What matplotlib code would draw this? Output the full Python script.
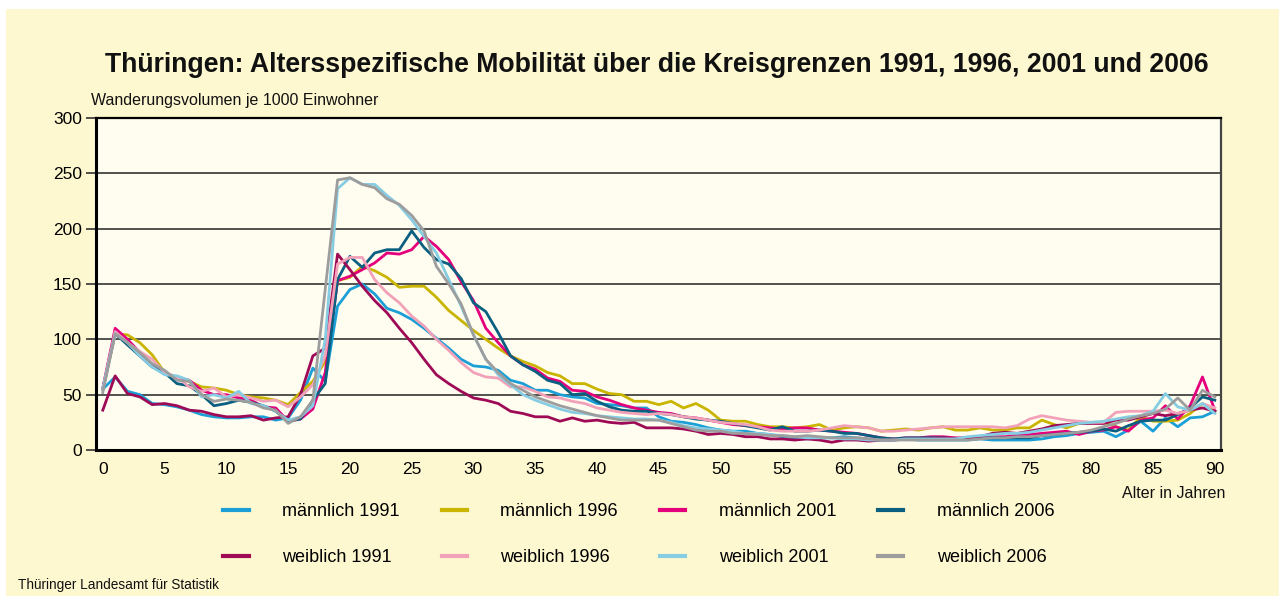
import matplotlib
matplotlib.use("Agg")
import matplotlib.pyplot as plt
from matplotlib.patches import Rectangle

# Alter 0..90
ages = list(range(0, 91))

# Wanderungsvolumen je 1000 Einwohner
m1991 = [55, 66, 53, 50, 42, 41, 39, 36, 32, 30, 29, 29, 30, 30, 27, 29, 45, 74, 62, 130,
         145, 150, 141, 128, 124, 118, 110, 101, 92, 82, 76, 75, 72,
         63, 60, 54, 54, 50, 48, 47, 42, 41, 40, 38,
         38, 30, 26, 25, 23, 20, 18, 17, 17, 15, 14, 12, 11, 10, 11, 11, 12, 11, 10, 9, 9, 10,
         9, 9, 9, 9, 9, 10, 9, 9, 9, 9, 10, 12, 13, 15, 16, 17, 12, 18, 26, 17, 29, 21, 29, 30, 35]
m1996 = [55, 105, 104, 97, 86, 70, 65, 62, 57, 56, 54, 50, 48, 47, 45, 41, 52, 62, 80, 153,
         156, 166, 162, 156, 147, 148, 148, 138, 126, 117, 108, 100, 92,
         85, 80, 76, 70, 67, 60, 60, 55, 51, 50, 44,
         44, 41, 44, 38, 42, 36, 27, 26, 26, 23, 21, 21, 20, 21, 23, 18, 20, 21, 20, 17, 18, 19,
         18, 20, 21, 18, 18, 20, 18, 18, 20, 20, 27, 23, 20, 24, 25, 25, 21, 18, 30, 26, 26, 27, 33, 42, 35]
m2001 = [56, 110, 100, 88, 77, 70, 65, 63, 54, 50, 50, 47, 45, 39, 38, 26, 28, 37, 70, 153,
         157, 163, 169, 178, 177, 181, 193, 184, 172, 152, 135, 110, 97,
         85, 77, 73, 65, 62, 54, 53, 48, 45, 41, 38,
         36, 34, 33, 30, 29, 27, 25, 23, 22, 21, 20, 19, 20, 20, 18, 17, 16, 15, 13, 11, 10, 11,
         11, 12, 12, 11, 11, 12, 12, 12, 13, 14, 15, 16, 17, 14, 17, 18, 21, 17, 27, 29, 40, 28, 40, 66, 36]
m2006 = [55, 105, 95, 85, 75, 70, 60, 58, 50, 40, 42, 45, 43, 40, 35, 26, 28, 45, 60, 154,
         175, 165, 178, 181, 181, 198, 183, 172, 168, 155, 133, 125, 106,
         85, 77, 71, 63, 60, 50, 51, 44, 39, 36, 35,
         35, 33, 32, 30, 28, 27, 26, 24, 22, 20, 18, 21, 17, 17, 18, 17, 15, 15, 13, 11, 10, 11,
         11, 11, 11, 10, 11, 11, 11, 11, 11, 11, 13, 14, 15, 16, 17, 19, 17, 22, 26, 27, 27, 32, 38, 48, 45]
w1991 = [36, 67, 51, 48, 41, 42, 40, 36, 35, 32, 30, 30, 31, 27, 29, 30, 50, 85, 92, 177,
         163, 148, 135, 124, 110, 97, 82, 68, 60, 53, 47, 45, 42,
         35, 33, 30, 30, 26, 29, 26, 27, 25, 24, 25,
         20, 20, 20, 19, 17, 14, 15, 14, 12, 12, 10, 10, 9, 10, 9, 7, 9, 9, 8, 9, 9, 10,
         10, 10, 11, 10, 11, 12, 15, 16, 15, 17, 19, 22, 23, 24, 24, 24, 27, 27, 30, 33, 31, 33, 36, 38, 35]
w1996 = [55, 107, 97, 89, 82, 70, 66, 57, 53, 56, 48, 50, 47, 44, 45, 39, 48, 59, 85, 168,
         174, 174, 154, 142, 133, 121, 112, 100, 90, 79, 70, 66, 65,
         57, 57, 53, 48, 47, 44, 42, 38, 36, 34, 33,
         32, 33, 32, 30, 29, 27, 25, 24, 23, 21, 18, 17, 17, 17, 18, 20, 22, 21, 20, 17, 17, 18,
         19, 20, 21, 21, 21, 21, 21, 20, 22, 28, 31, 29, 27, 26, 25, 25, 34, 35, 35, 35, 36, 33, 36, 42, 38]
w2001 = [55, 105, 97, 85, 75, 68, 67, 63, 48, 50, 47, 53, 42, 40, 35, 27, 30, 40, 100, 236,
         246, 240, 240, 230, 221, 208, 193, 178, 154, 130, 104, 82, 68,
         59, 50, 45, 41, 37, 34, 33, 31, 30, 29, 28,
         28, 27, 25, 22, 20, 19, 18, 17, 15, 15, 14, 13, 12, 11, 11, 11, 10, 10, 9, 9, 9, 10,
         10, 10, 10, 10, 12, 13, 14, 15, 15, 16, 18, 20, 22, 24, 25, 26, 28, 30, 31, 35, 51, 39, 36, 42, 33]
w2006 = [52, 105, 97, 88, 78, 72, 63, 62, 50, 44, 46, 45, 43, 38, 36, 24, 30, 45, 145, 244,
         246, 240, 237, 227, 222, 212, 198, 166, 150, 132, 104, 82, 70,
         60, 54, 48, 44, 40, 37, 34, 31, 29, 27, 27,
         27, 27, 24, 21, 18, 17, 17, 15, 15, 14, 13, 13, 12, 13, 12, 11, 11, 11, 10, 9, 9, 9,
         9, 9, 9, 9, 9, 10, 11, 11, 12, 12, 13, 14, 15, 16, 18, 21, 24, 28, 31, 33, 37, 47, 36, 54, 48]

labels = ["männlich 1991", "männlich 1996", "männlich 2001", "männlich 2006",
          "weiblich 1991", "weiblich 1996", "weiblich 2001", "weiblich 2006"]
series = [m1991, m1996, m2001, m2006, w1991, w1996, w2001, w2006]
colors = ["#1b9fd6", "#c9b400", "#e4007d", "#0b5f80",
          "#9e0a56", "#f2a2b8", "#86cde3", "#9d9d9d"]

plt.rcParams['font.family'] = ['Liberation Sans', 'DejaVu Sans']

fig = plt.figure(figsize=(12.79, 5.96), dpi=100, facecolor="white")
# gelber Hintergrund (oben/links kleiner weisser Rand)
fig.patches.append(Rectangle((6 / 1279, 0), 1, 1 - 9 / 596, transform=fig.transFigure,
                             facecolor="#fef8d0", edgecolor="none", zorder=-10))

ax = fig.add_axes([96 / 1279, 1 - 450 / 596, (1221 - 96) / 1279, (450 - 118) / 596])
ax.set_facecolor("#fffdf0")

lines = {}
for lab, vals, col in zip(labels, series, colors):
    lines[lab], = ax.plot(ages, vals, color=col, lw=2.0, label=lab, zorder=3)

ax.set_xlim(-0.55, 90.5)
ax.set_ylim(0, 300)
ax.set_xticks(range(0, 91, 5))
ax.set_yticks(range(0, 301, 50))
ax.tick_params(axis="x", length=0, pad=9, labelsize=12.5)
ax.tick_params(axis="y", length=7, width=1.2, pad=3, labelsize=12.5, color="#333333")
ax.yaxis.grid(True, color="#222222", lw=1.1, zorder=1)
ax.set_axisbelow(True)

for s in ["left", "bottom"]:
    ax.spines[s].set_linewidth(2.2)
    ax.spines[s].set_color("black")
ax.spines["top"].set_linewidth(1.6)
ax.spines["top"].set_color("black")
ax.spines["right"].set_linewidth(1.6)
ax.spines["right"].set_color("#444444")

fig.text(657 / 1279, 1 - 65 / 596, "Thüringen: Altersspezifische Mobilität über die Kreisgrenzen 1991, 1996, 2001 und 2006",
         ha="center", va="center", fontsize=19.2, fontweight="bold", color="#111111")
fig.text(91 / 1279, 1 - 101 / 596, "Wanderungsvolumen je 1000 Einwohner",
         ha="left", va="center", fontsize=11.5, color="#111111")
fig.text(1225 / 1279, 1 - 493 / 596, "Alter in Jahren",
         ha="right", va="center", fontsize=11.5, color="#111111")
fig.text(18 / 1279, 1 - 585 / 596, "Thüringer Landesamt für Statistik",
         ha="left", va="center", fontsize=9.8, color="#111111")

# Legende: Zeile 1 männlich, Zeile 2 weiblich
order = ["männlich 1991", "weiblich 1991", "männlich 1996", "weiblich 1996",
         "männlich 2001", "weiblich 2001", "männlich 2006", "weiblich 2006"]
leg = fig.legend([lines[k] for k in order], order, ncol=4, frameon=False,
                 loc="upper left", bbox_to_anchor=(207 / 1279, 1 - 487 / 596),
                 fontsize=13, handlelength=1.4, handletextpad=1.85,
                 columnspacing=2.33, labelspacing=1.62)
for h in leg.legend_handles:
    h.set_linewidth(3)

fig.savefig("out.png", dpi=100, facecolor=fig.get_facecolor())
